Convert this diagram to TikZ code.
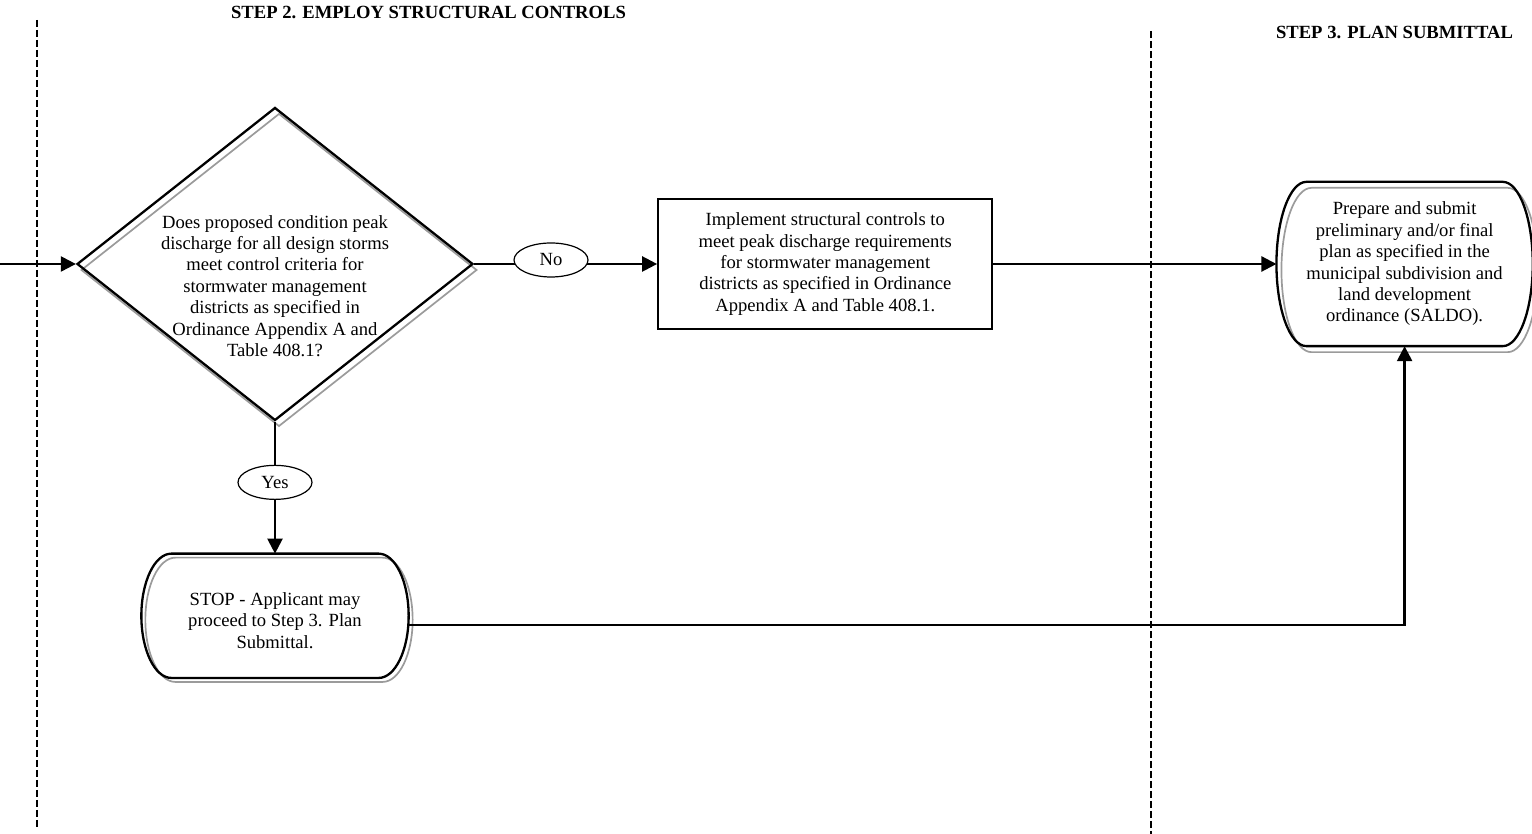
\documentclass[tikz,border=0pt]{standalone}
\usepackage{fontspec}
\setmainfont{Liberation Serif}
\usetikzlibrary{shapes.geometric}
\usetikzlibrary{shadows}
\usetikzlibrary{positioning}
\usetikzlibrary{calc}
\usetikzlibrary{arrows.meta}

% outline of a terminator (flat top and bottom, elliptic ends)
\newcommand{\termedge}[2]{%
  \draw[#2] let \p1 = ($(#1.north)-(#1.south)$) in
    ([xshift=15pt]#1.north west) -- ([xshift=-15pt]#1.north east)
    arc[start angle=90, end angle=-90, x radius=15pt, y radius=0.5*\y1]
    -- ([xshift=15pt]#1.south west)
    arc[start angle=270, end angle=90, x radius=15pt, y radius=0.5*\y1]
    -- cycle;}

\begin{document}
\begin{tikzpicture}[->,>={Triangle[length=7.5pt,width=7.5pt]},line width=1.15pt,
	x=0.5pt,y=0.5pt,
	every node/.style={font=\fontsize{9.3}{10.7}\selectfont},
	head node/.style={font=\fontsize{9.3}{10.7}\selectfont\bfseries},
	dec node/.style={diamond,draw,align=center,inner xsep=-44pt,inner ysep=-30pt,
		minimum width=198pt,minimum height=156.5pt,
		general shadow={draw=shadowgray,line width=0.85pt,shadow xshift=2pt,shadow yshift=-3pt}},
	box node/.style={rectangle,draw,align=center,minimum width=167pt,minimum height=65pt},
	term node/.style={rectangle,align=center,inner sep=0pt},
	tag node/.style={ellipse,draw,line width=0.6pt,fill=white,inner sep=0pt,
		minimum width=37pt,minimum height=17pt},
	lane/.style={-,dash pattern=on 3.5pt off 1.5pt,line width=1pt}]
	
	\definecolor{shadowgray}{RGB}{155,155,155}
	\useasboundingbox (0,0) rectangle (1532,834);
	
	\node[head node] (step2) at (428.5,821.7) {STEP 2. EMPLOY STRUCTURAL CONTROLS};
	\node[head node] (step3) at (1394.5,801.5) {STEP 3. PLAN SUBMITTAL};
	
	\draw[lane] (37,814) -- (37,6);
	\draw[lane] (1151,803) -- (1151,0);
	
	\node[dec node] (dec) at (275,570) {\rule{0pt}{28.5pt}Does proposed condition peak\\discharge for all design storms\\meet control criteria for\\stormwater management\\districts as specified in\\Ordinance Appendix A and\\Table 408.1?};
	\node[box node] (impl) [right=91.5pt of dec] {Implement structural controls to\\meet peak discharge requirements\\for stormwater management\\districts as specified in Ordinance\\Appendix A and Table 408.1.};
	\node[term node, minimum width=127pt, minimum height=81pt] (plan) [right=141.5pt of impl] {Prepare and submit\\preliminary and/or final\\plan as specified in the\\municipal subdivision and\\land development\\ordinance (SALDO).};
	\node[term node, minimum width=132.5pt, minimum height=61pt] (stop) [below=66pt of dec] {\rule{0pt}{11pt}STOP - Applicant may\\proceed to Step 3. Plan\\Submittal.};
	
	\termedge{plan}{-,shadowgray,line width=0.85pt,transform canvas={shift={(2.5pt,-3pt)}}}
	\termedge{plan}{-}
	\termedge{stop}{-,shadowgray,line width=0.85pt,transform canvas={shift={(2pt,-2pt)}}}
	\termedge{stop}{-}
	
	\coordinate (in) at (0,570);
	\draw (in) -- (dec.west);
	
	\path
	(dec) edge node [tag node, pos=0.42, yshift=2pt] {No} (impl)
	(dec) edge node [tag node, pos=0.46] {Yes} (stop)
	(impl) edge node [] {} (plan);
	
	\draw ([yshift=-4.5pt]stop.east) -| (plan.south);
	\end{tikzpicture}
\end{document}
